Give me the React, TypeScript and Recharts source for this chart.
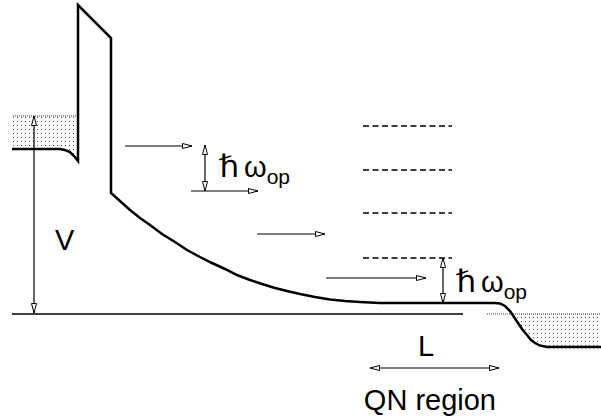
import { Area, ComposedChart, Line, ReferenceDot, ReferenceLine, XAxis, YAxis } from 'recharts';

// diagram coordinates: position along the device (x) and energy (drawn downward)
const bandPos = [
  12, 60, 65, 70, 74, 78, 78, 111, 111, 120, 130, 140, 150, 162, 175, 187, 200, 212, 225, 237, 250,
  262, 275, 287, 300, 315, 330, 345, 360, 380, 495, 500, 505, 510, 514, 518, 522, 527, 531, 535, 540,
  547, 601
];
const bandEnergy = [
  149, 149, 150, 152, 156, 161, 5, 38, 193, 201, 210, 218, 225, 234, 242, 250, 257, 263, 269, 275, 280,
  284, 288, 291, 294, 297, 299.5, 301, 302, 303, 303, 303.5, 306, 311, 317, 323, 329, 335, 340, 343,
  345.5, 347, 347
];

const leftSeaPos = [13, 60, 65, 70, 74, 78];
const leftSeaBottom = [149, 149, 150, 152, 156, 161];
const leftFermi = 116;

const rightSeaPos = [511, 514, 518, 522, 527, 531, 535, 540, 547, 601];
const rightSeaBottom = [314, 317, 323, 329, 335, 340, 343, 345.5, 347, 347];
const rightFermi = 314;

const groundLevel = 314;
const phononLevels = [126, 170, 213, 258];

const hopStart = [125, 191, 257, 326];
const hopEnd = [192, 258, 325, 426];
const hopEnergy = [146, 191, 234, 278];

const bandData = bandPos.map((x, i) => ({ x, e: bandEnergy[i] }));
const leftSeaData = leftSeaPos.map((x, i) => ({ x, range: [leftFermi, leftSeaBottom[i]] }));
const rightSeaData = rightSeaPos.map((x, i) => ({ x, range: [rightFermi, rightSeaBottom[i]] }));

const font = 'Liberation Sans, Arial, sans-serif';

const arrow = (double: boolean) => (p: any) => (
  <line
    x1={p.x1}
    y1={p.y1}
    x2={p.x2}
    y2={p.y2}
    stroke="#000"
    strokeWidth={1.2}
    markerEnd="url(#head)"
    markerStart={double ? 'url(#head)' : undefined}
  />
);

const label = (text: string, size = 29, anchor: 'start' | 'end' = 'start') => (p: any) => (
  <text x={p.cx} y={p.cy} fontFamily={font} fontSize={size} textAnchor={anchor} fill="#000">
    {text}
  </text>
);

// DejaVu's hbar is slanted, so straighten it up a little
const hbarOmega = (p: any) => (
  <g>
    <text transform={`translate(${p.cx},${p.cy}) skewX(11)`} fill="#000" fontSize={31} fontFamily="DejaVu Sans">
      ℏ
    </text>
    <text x={p.cx + 23} y={p.cy} fill="#000" fontSize={29} fontFamily={font}>
      ω<tspan fontSize={21} dy={7}>op</tspan>
    </text>
  </g>
);

export default function App() {
  return (
    <div style={{ position: 'absolute', left: 0, top: 0, background: '#fff' }}>
      <ComposedChart width={601} height={419} margin={{ top: 0, right: 0, bottom: 0, left: 0 }}>
        <defs>
          <pattern id="dots" width="4" height="4" patternUnits="userSpaceOnUse">
            <rect x="1" y="1" width="1" height="1" fill="#555" />
          </pattern>
          <marker
            id="head"
            markerUnits="userSpaceOnUse"
            markerWidth="11"
            markerHeight="7"
            refX="10"
            refY="3"
            orient="auto-start-reverse"
          >
            <path d="M0.5,0.5 L10,3 L0.5,5.5 Z" fill="#fff" stroke="#000" strokeWidth={1} />
          </marker>
        </defs>
        <XAxis type="number" dataKey="x" domain={[0, 601]} hide />
        <YAxis type="number" domain={[0, 419]} reversed hide />

        <Area data={leftSeaData} dataKey="range" type="linear" stroke="none" fill="url(#dots)" fillOpacity={1} dot={false} activeDot={false} isAnimationActive={false} />
        <Area data={rightSeaData} dataKey="range" type="linear" stroke="none" fill="url(#dots)" fillOpacity={1} dot={false} activeDot={false} isAnimationActive={false} />

        <ReferenceLine segment={[{ x: 13, y: leftFermi }, { x: 78, y: leftFermi }]} stroke="#333" strokeDasharray="1 1" />
        <ReferenceLine segment={[{ x: 487, y: rightFermi }, { x: 601, y: rightFermi }]} stroke="#333" strokeDasharray="1 1" />
        <ReferenceLine segment={[{ x: 12, y: groundLevel }, { x: 463, y: groundLevel }]} stroke="#000" strokeWidth={1.3} />

        {phononLevels.map((e) => (
          <ReferenceLine key={e} segment={[{ x: 363, y: e }, { x: 452, y: e }]} stroke="#000" strokeWidth={1.3} strokeDasharray="6 3.5" />
        ))}

        {hopStart.map((x, i) => (
          <ReferenceLine key={x} segment={[{ x, y: hopEnergy[i] }, { x: hopEnd[i], y: hopEnergy[i] }]} shape={arrow(false)} />
        ))}

        <ReferenceLine segment={[{ x: 34, y: leftFermi }, { x: 34, y: groundLevel - 1 }]} shape={arrow(true)} />
        <ReferenceLine segment={[{ x: 205, y: 145 }, { x: 205, y: 191 }]} shape={arrow(true)} />
        <ReferenceLine segment={[{ x: 443, y: phononLevels[3] }, { x: 443, y: 303 }]} shape={arrow(true)} />
        <ReferenceLine segment={[{ x: 370, y: 368 }, { x: 499, y: 368 }]} shape={arrow(true)} />

        <Line
          data={bandData}
          dataKey="e"
          type="linear"
          stroke="#000"
          strokeWidth={2.5}
          strokeLinejoin="miter"
          strokeLinecap="butt"
          dot={false}
          activeDot={false}
          isAnimationActive={false}
        />

        <ReferenceDot x={55} y={250} r={0} shape={label('V')} />
        <ReferenceDot x={418} y={356} r={0} shape={label('L')} />
        <ReferenceDot x={496} y={410} r={0} shape={label('QN region', 29, 'end')} />
        <ReferenceDot x={221} y={177} r={0} shape={hbarOmega} />
        <ReferenceDot x={458} y={292} r={0} shape={hbarOmega} />
      </ComposedChart>
    </div>
  );
}
